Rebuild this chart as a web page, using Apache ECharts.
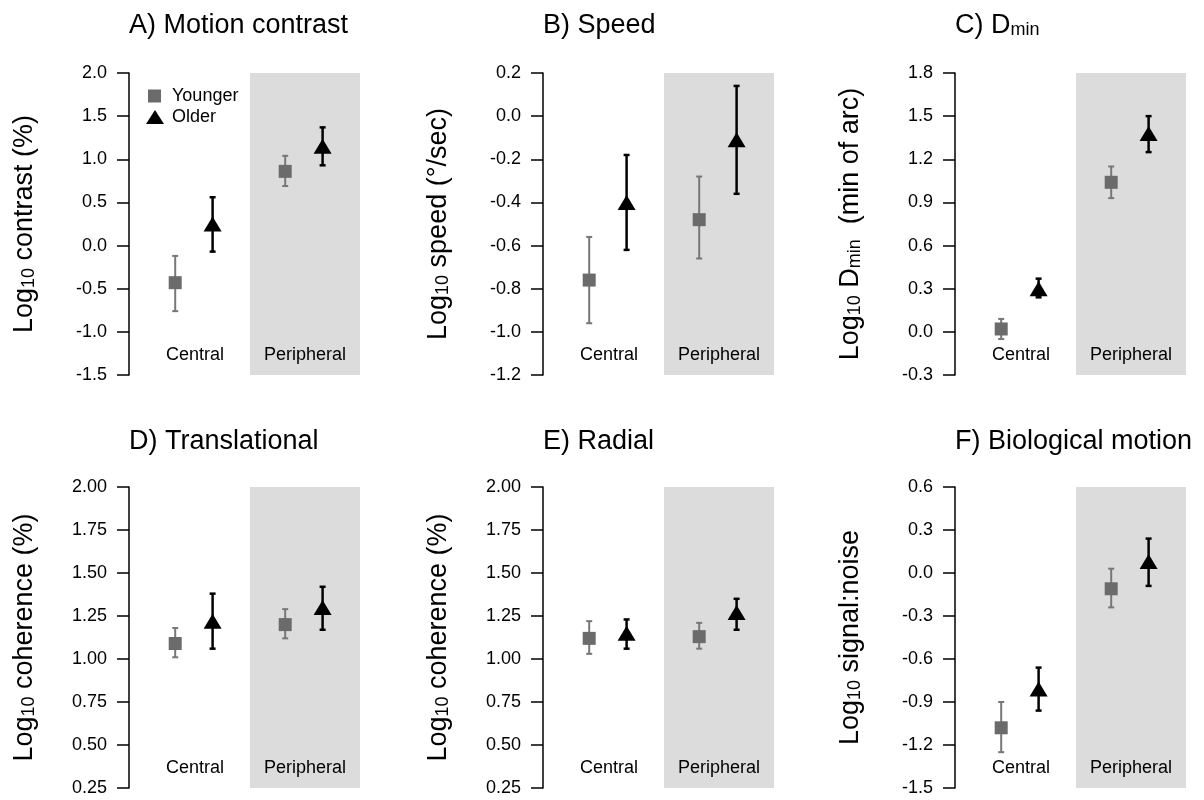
<!DOCTYPE html>
<html>
<head>
<meta charset="utf-8">
<title>Motion thresholds, younger vs older</title>
<script src="https://cdn.jsdelivr.net/npm/echarts@6/dist/echarts.min.js"></script>
<style>
  body { margin: 0; background: #fff; }
  #chart { width: 1204px; height: 800px; }
</style>
</head>
<body>
<div id="chart"></div>
<script>
// panel data, one entry per panel (A..F); inner pairs are [Central, Peripheral]
const panelTitles = ["A) Motion contrast", "B) Speed", "{n|C) D}{s|min}", "D) Translational", "E) Radial", "F) Biological motion"];
const yNames = [
  "{n|Log}{s|10}{n| contrast (%)}",
  "{n|Log}{s|10}{n| speed (°/sec)}",
  "{n|Log}{s|10}{n| D}{s|min}{n|  (min of arc)}",
  "{n|Log}{s|10}{n| coherence (%)}",
  "{n|Log}{s|10}{n| coherence (%)}",
  "{n|Log}{s|10}{n| signal:noise}"
];
const yMin = [-1.5, -1.2, -0.3, 0.25, 0.25, -1.5];
const yMax = [2.0, 0.2, 1.8, 2.0, 2.0, 0.6];
const yStep = [0.5, 0.2, 0.3, 0.25, 0.25, 0.3];
const yDecimals = [1, 1, 1, 2, 2, 1];
const conditions = ["Central", "Peripheral"];

const youngerMean = [[-0.43, 0.86], [-0.76, -0.48], [0.02, 1.04], [1.09, 1.20], [1.12, 1.13], [-1.08, -0.11]];
const youngerLow  = [[-0.76, 0.69], [-0.96, -0.66], [-0.05, 0.93], [1.01, 1.12], [1.03, 1.06], [-1.25, -0.24]];
const youngerHigh = [[-0.12, 1.04], [-0.56, -0.28], [0.09, 1.15], [1.18, 1.29], [1.22, 1.21], [-0.90, 0.03]];
const olderMean   = [[0.25, 1.15], [-0.40, -0.11], [0.30, 1.38], [1.22, 1.30], [1.15, 1.27], [-0.81, 0.08]];
const olderLow    = [[-0.07, 0.93], [-0.62, -0.36], [0.24, 1.25], [1.06, 1.17], [1.06, 1.17], [-0.96, -0.09]];
const olderHigh   = [[0.56, 1.37], [-0.18, 0.14], [0.37, 1.50], [1.38, 1.42], [1.23, 1.35], [-0.66, 0.24]];

const FONT = "Liberation Sans, Arial, Helvetica, sans-serif";
const GRAY = "#6b6b6b";
const groupX = [1, 2];
const offYoung = -0.18, offOld = 0.16;
const colLeft = [129, 543, 955];
const rowTop = [73, 487];
const rowHeight = [302, 301];

const richText = {
  n: { fontSize: 27, fontFamily: FONT, color: "#000" },
  s: { fontSize: 18, fontFamily: FONT, color: "#000", verticalAlign: "bottom" }
};

function errorBar(color, width) {
  return function (params, api) {
    const x = api.value(0);
    const top = api.coord([x, api.value(2)]);
    const bot = api.coord([x, api.value(1)]);
    const c = 3;
    const st = { stroke: color, lineWidth: width };
    return {
      type: "group",
      children: [
        { type: "line", shape: { x1: top[0], y1: top[1], x2: bot[0], y2: bot[1] }, style: st },
        { type: "line", shape: { x1: top[0] - c, y1: top[1], x2: top[0] + c, y2: top[1] }, style: st },
        { type: "line", shape: { x1: bot[0] - c, y1: bot[1], x2: bot[0] + c, y2: bot[1] }, style: st }
      ]
    };
  };
}

const grid = [], xAxis = [], yAxis = [], series = [], title = [];

panelTitles.forEach((t, i) => {
  const row = Math.floor(i / 3);
  const col = i % 3;
  grid.push({ left: colLeft[col], top: rowTop[row], width: 231, height: rowHeight[row] });
  title.push({
    text: t,
    left: colLeft[col],
    top: row === 0 ? 12 : 428,
    padding: 0,
    textStyle: { fontSize: 27, fontWeight: "normal", color: "#000", fontFamily: FONT, rich: richText }
  });
  xAxis.push({ gridIndex: i, type: "value", min: 0.4, max: 2.5, show: false });
  yAxis.push({
    gridIndex: i,
    type: "value",
    min: yMin[i],
    max: yMax[i],
    interval: yStep[i],
    name: yNames[i],
    nameLocation: "middle",
    nameGap: 91,
    nameTextStyle: { fontSize: 27, fontFamily: FONT, color: "#000", rich: richText },
    axisLine: { show: true, lineStyle: { color: "#000", width: 1.5 } },
    axisTick: { show: true, length: 12, lineStyle: { color: "#000", width: 1.5 } },
    splitLine: { show: false },
    axisLabel: {
      margin: 22,
      fontSize: 18,
      fontFamily: FONT,
      color: "#000",
      formatter: v => v.toFixed(yDecimals[i])
    }
  });

  // condition labels + peripheral shading
  series.push({
    type: "scatter",
    name: "labels",
    xAxisIndex: i,
    yAxisIndex: i,
    symbolSize: 0,
    silent: true,
    z: 1,
    itemStyle: { opacity: 1 },
    data: conditions.map((c, k) => ({ value: [groupX[k], yMin[i]], name: c })),
    label: {
      show: true,
      position: "top",
      distance: 11,
      formatter: p => p.name,
      fontSize: 18,
      fontFamily: FONT,
      color: "#000"
    },
    markArea: {
      silent: true,
      itemStyle: { color: "#dcdcdc", opacity: 1 },
      data: [[{ xAxis: 1.5 }, { xAxis: 2.5 }]]
    }
  });

  series.push({
    type: "custom",
    name: "Younger",
    xAxisIndex: i,
    yAxisIndex: i,
    z: 3,
    silent: true,
    renderItem: errorBar("#777", 2),
    encode: { x: 0, y: [1, 2] },
    data: conditions.map((c, k) => [groupX[k] + offYoung, youngerLow[i][k], youngerHigh[i][k]])
  });
  series.push({
    type: "custom",
    name: "Older",
    xAxisIndex: i,
    yAxisIndex: i,
    z: 3,
    silent: true,
    renderItem: errorBar("#000", 2.5),
    encode: { x: 0, y: [1, 2] },
    data: conditions.map((c, k) => [groupX[k] + offOld, olderLow[i][k], olderHigh[i][k]])
  });
  series.push({
    type: "scatter",
    name: "Younger",
    xAxisIndex: i,
    yAxisIndex: i,
    z: 4,
    symbol: "rect",
    symbolSize: 13,
    itemStyle: { color: GRAY, opacity: 1 },
    data: conditions.map((c, k) => [groupX[k] + offYoung, youngerMean[i][k]])
  });
  series.push({
    type: "scatter",
    name: "Older",
    xAxisIndex: i,
    yAxisIndex: i,
    z: 4,
    symbol: "triangle",
    symbolSize: [18, 15],
    itemStyle: { color: "#000", opacity: 1 },
    data: conditions.map((c, k) => [groupX[k] + offOld, olderMean[i][k]])
  });
});

const chart = echarts.init(document.getElementById("chart"));
chart.setOption({
  backgroundColor: "#fff",
  animation: false,
  title: title,
  legend: [
    {
      data: [{ name: "Younger", icon: "rect", itemStyle: { color: GRAY, opacity: 1 } }],
      left: 148, top: 87, padding: 0,
      itemWidth: 13, itemHeight: 13,
      selectedMode: false,
      textStyle: { fontSize: 18, fontFamily: FONT, color: "#000", padding: [0, 0, 0, 6] }
    },
    {
      data: [{ name: "Older", icon: "triangle", itemStyle: { color: "#000", opacity: 1 } }],
      left: 146, top: 108, padding: 0,
      itemWidth: 18, itemHeight: 14,
      selectedMode: false,
      textStyle: { fontSize: 18, fontFamily: FONT, color: "#000", padding: [0, 0, 0, 3] }
    }
  ],
  grid: grid,
  xAxis: xAxis,
  yAxis: yAxis,
  series: series
});
</script>
</body>
</html>
